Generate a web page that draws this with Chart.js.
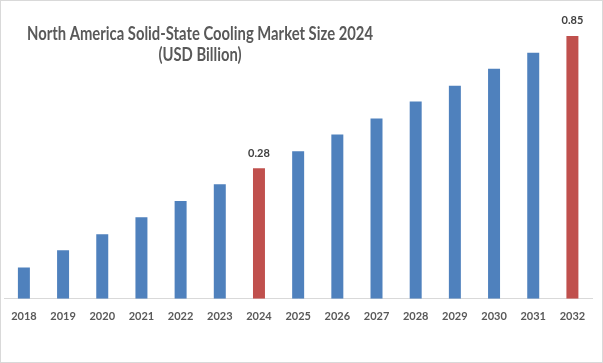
<!DOCTYPE html>
<html>
<head>
<meta charset="utf-8">
<script src="https://cdn.jsdelivr.net/npm/chart.js@4.4.1/dist/chart.umd.min.js"></script>
<style>
html, body { margin: 0; padding: 0; background: #fff; }
#wrap { width: 603px; height: 363px; position: relative; }
</style>
</head>
<body>
<div id="wrap"><canvas id="marketChart"></canvas></div>
<script>
const years = ['2018', '2019', '2020', '2021', '2022', '2023', '2024', '2025',
    '2026', '2027', '2028', '2029', '2030', '2031', '2032'];
const marketSize = [0.122, 0.141, 0.161, 0.186, 0.213, 0.245, 0.28, 0.323,
    0.372, 0.425, 0.49, 0.56, 0.645, 0.738, 0.85];
const highlightYears = ['2024', '2032'];
const titleLines = ['North America Solid-State Cooling Market Size 2024', '(USD Billion)'];

const blue = '#4f81bd';
const red = '#c0504d';
const textGray = '#595959';

const barColors = years.map(y => highlightYears.includes(y) ? red : blue);

// white background and thin frame round the picture
const framePlugin = {
    id: 'frame',
    beforeDraw(chart) {
        const ctx = chart.ctx;
        ctx.save();
        ctx.fillStyle = '#fff';
        ctx.fillRect(0, 0, chart.width, chart.height);
        ctx.restore();
    },
    afterDraw(chart) {
        const ctx = chart.ctx;
        ctx.save();
        ctx.strokeStyle = '#d9d9d9';
        ctx.lineWidth = 1;
        ctx.strokeRect(0.5, 0.5, chart.width - 1, chart.height - 1);
        ctx.restore();
    }
};

// title sits left of centre, like the original
const titlePlugin = {
    id: 'sideTitle',
    afterDraw(chart) {
        const ctx = chart.ctx;
        ctx.save();
        ctx.font = 'bold 18px Lato, "Open Sans", sans-serif';
        ctx.fillStyle = textGray;
        ctx.textAlign = 'center';
        ctx.textBaseline = 'alphabetic';
        const sx = Math.min(1, 346 / ctx.measureText(titleLines[0]).width);
        ctx.translate(200, 0);
        ctx.scale(sx, 1);
        ctx.fillText(titleLines[0], 0, 40);
        ctx.fillText(titleLines[1], 0, 61);
        ctx.restore();
    }
};

const valueLabelPlugin = {
    id: 'valueLabels',
    afterDatasetsDraw(chart) {
        const ctx = chart.ctx;
        const meta = chart.getDatasetMeta(0);
        ctx.save();
        ctx.font = 'bold 11px Lato, "Open Sans", sans-serif';
        ctx.fillStyle = '#404040';
        ctx.textAlign = 'center';
        ctx.textBaseline = 'middle';
        years.forEach((y, i) => {
            if (!highlightYears.includes(y)) return;
            const bar = meta.data[i];
            ctx.fillText(marketSize[i].toFixed(2), bar.x, bar.y - 15);
        });
        ctx.restore();
    }
};

const ctx = document.getElementById('marketChart').getContext('2d');
new Chart(ctx, {
    type: 'bar',
    data: {
        labels: years,
        datasets: [{
            data: marketSize,
            backgroundColor: barColors,
            categoryPercentage: 1,
            barPercentage: 0.306
        }]
    },
    options: {
        responsive: true,
        maintainAspectRatio: false,
        animation: false,
        devicePixelRatio: 1,
        layout: {
            padding: { left: 4, right: 11, top: 20, bottom: 29 }
        },
        plugins: {
            legend: { display: false },
            title: { display: false },
            tooltip: { enabled: false }
        },
        scales: {
            x: {
                grid: { display: false, drawTicks: false },
                border: { display: true, color: '#d9d9d9', width: 1 },
                ticks: {
                    color: textGray,
                    font: { family: 'Lato, "Open Sans", sans-serif', size: 11, weight: 'bold' },
                    padding: 11,
                    maxRotation: 0,
                    autoSkip: false
                }
            },
            y: {
                type: 'logarithmic',
                display: false,
                bounds: 'data',
                min: 0.0938,
                max: 0.9714
            }
        }
    },
    plugins: [framePlugin, titlePlugin, valueLabelPlugin]
});
</script>
</body>
</html>
